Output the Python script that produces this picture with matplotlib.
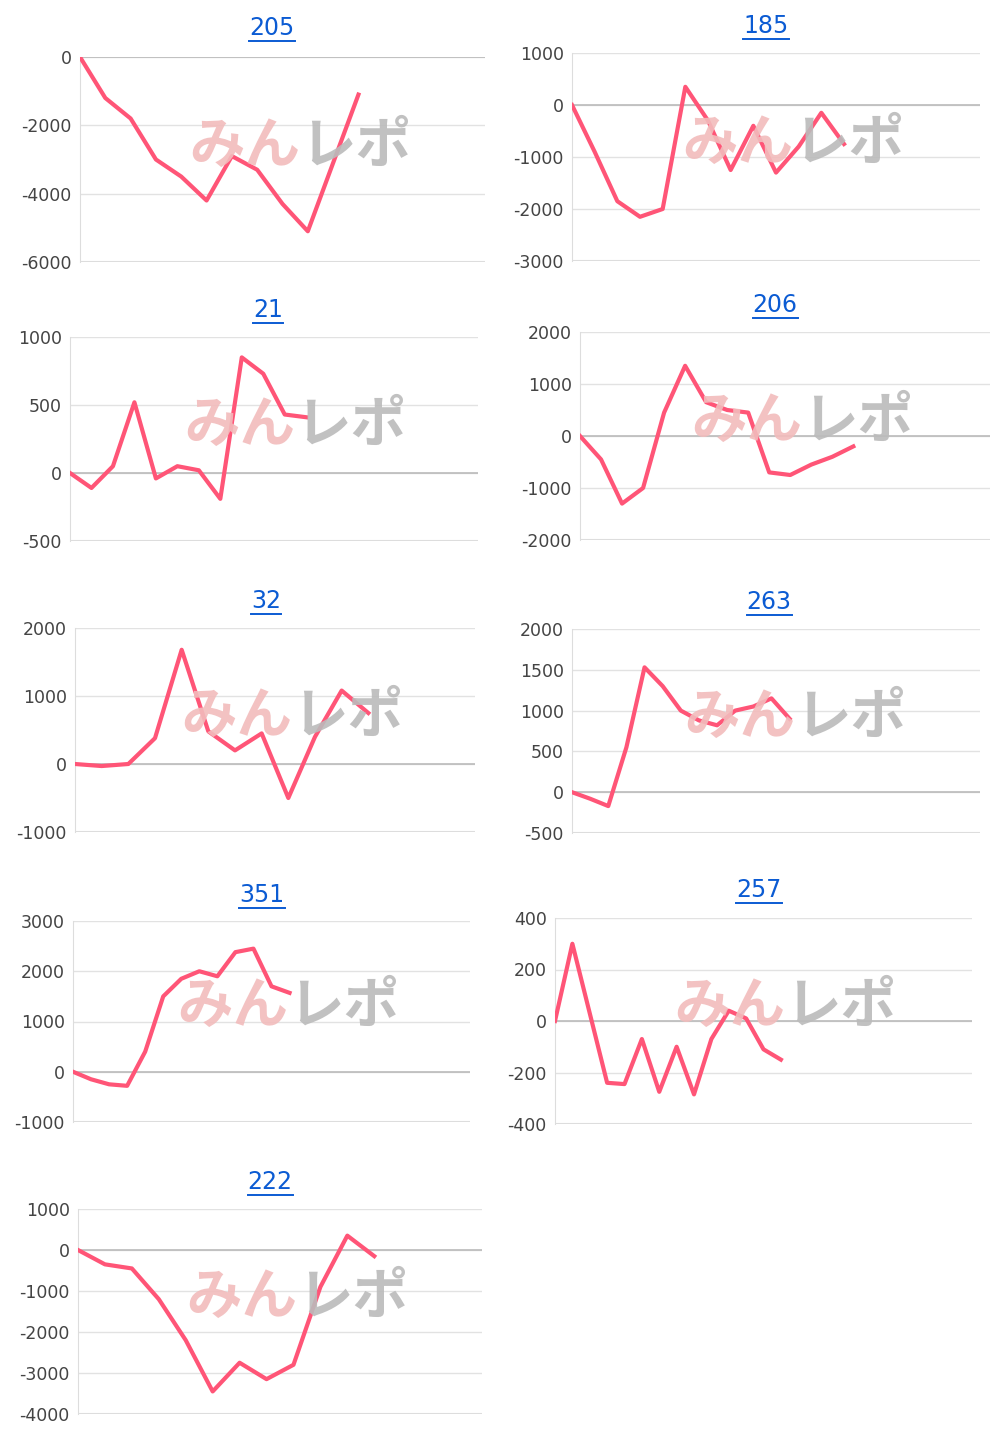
import matplotlib
matplotlib.use("Agg")
import matplotlib.pyplot as plt
from matplotlib.lines import Line2D
plt.rcParams['axes.unicode_minus'] = False

titles = ["205", "185", "21", "206", "32", "263", "351", "257", "222"]
s205 = [0, -1200, -1800, -3000, -3500, -4200, -2900, -3300, -4300, -5100, -3100, -1100]
s185 = [0, -900, -1850, -2150, -2000, 350, -300, -1250, -400, -1300, -800, -150, -750]
s21 = [0, -110, 50, 520, -40, 50, 20, -190, 850, 730, 430, 410]
s206 = [0, -450, -1300, -1000, 450, 1350, 650, 500, 450, -700, -750, -550, -400, -200]
s32 = [0, -30, 0, 380, 1680, 480, 200, 450, -500, 400, 1080, 750]
s263 = [0, -80, -170, 550, 1530, 1300, 1000, 880, 820, 1000, 1050, 1150, 900]
s351 = [0, -150, -250, -280, 400, 1500, 1850, 2000, 1900, 2380, 2450, 1700, 1570]
s257 = [0, 300, 30, -240, -245, -70, -275, -100, -285, -70, 40, 10, -110, -150]
s222 = [0, -350, -450, -1200, -2200, -3450, -2750, -3150, -2800, -900, 350, -150]
series = [s205, s185, s21, s206, s32, s263, s351, s257, s222]
yticks = [[-6000, -4000, -2000, 0], [-3000, -2000, -1000, 0, 1000], [-500, 0, 500, 1000],
          [-2000, -1000, 0, 1000, 2000], [-1000, 0, 1000, 2000], [-500, 0, 500, 1000, 1500, 2000],
          [-1000, 0, 1000, 2000, 3000], [-400, -200, 0, 200, 400], [-4000, -3000, -2000, -1000, 0, 1000]]
ytop = [0, 1000, 1000, 2000, 2000, 2000, 3000, 400, 1000]
nslots = [16, 18, 19, 19.5, 15, 22.5, 22, 24, 15]

boxes = [(80, 57, 485, 262), (572, 53, 980, 261), (70, 337, 478, 541), (580, 332, 990, 540),
         (75, 628, 475, 832), (572, 629, 980, 833), (73, 921, 470, 1122), (555, 918, 972, 1124),
         (78, 1209, 482, 1414)]
title_xy = [(272, 28), (766, 26), (268, 310), (775, 305), (266, 601), (769, 602),
            (262, 895), (759, 890), (270, 1182)]
wm_xy = [(300, 147), (793, 144), (295, 426), (802, 422), (292, 717), (795, 718),
         (288, 1007), (785, 1007), (297, 1298)]

W, H = 1000, 1437
fig = plt.figure(figsize=(10, 14.37), dpi=100)
fig.canvas.draw()
r = fig.canvas.get_renderer()
for i in range(9):
    l, t, rr, b = boxes[i]
    ax = fig.add_axes([l / W, 1 - b / H, (rr - l) / W, (b - t) / H])
    ys = series[i]
    ax.plot(range(len(ys)), ys, color="#ff5577", lw=3, zorder=5)
    ax.set_xlim(0, nslots[i])
    ax.set_ylim(yticks[i][0], ytop[i])
    ax.set_yticks(yticks[i])
    ax.set_xticks([])
    for s in ["top", "right", "bottom"]:
        ax.spines[s].set_visible(False)
    ax.spines["left"].set_color("#dddddd")
    ax.grid(axis="y", color="#e2e2e2", lw=1)
    ax.axhline(0, color="#bbbbbb", lw=1.2, zorder=2)
    ax.axhline(yticks[i][0], color="#dddddd", lw=1.5, zorder=2)
    ax.tick_params(axis="y", length=0, labelsize=12.5, labelcolor="#444444", pad=6)
    wx, wy = wm_xy[i]
    fig.text(wx / W, 1 - wy / H, "みん", ha="right", va="center",
             fontsize=40, fontweight="bold", style="italic", color="#f2bcbc", alpha=0.9,
             family=["Noto Sans CJK JP"], zorder=3)
    fig.text(wx / W, 1 - wy / H, "レポ", ha="left", va="center",
             fontsize=40, fontweight="bold", style="italic", color="#bbbbbb", alpha=0.9,
             family=["Noto Sans CJK JP"], zorder=3)
    tx, ty = title_xy[i]
    tt = fig.text(tx / W, 1 - ty / H, titles[i], ha="center", va="center", fontsize=17, color="#0b5bd3")
    bb = tt.get_window_extent(renderer=r)
    fig.add_artist(Line2D([bb.x0 / W, bb.x1 / W], [bb.y0 / H - 0.0006] * 2, color="#0b5bd3", lw=1.4,
                          transform=fig.transFigure))
fig.savefig("out.png", dpi=100, facecolor="white")
